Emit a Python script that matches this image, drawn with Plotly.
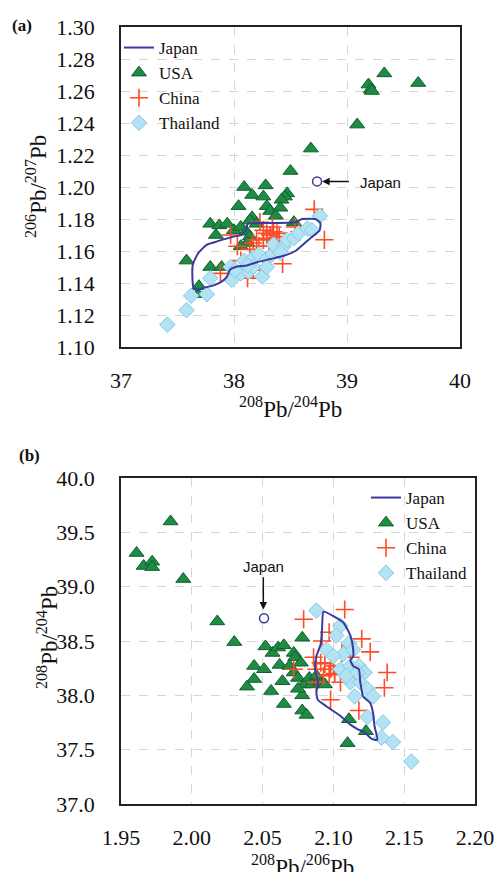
import plotly.graph_objects as go

# ---------------- Panel (a): 208Pb/204Pb vs 206Pb/207Pb ----------------
usa_a_x = [39.33, 39.63, 39.19, 39.21, 39.22, 39.09, 38.68, 38.50, 38.09, 38.28, 38.16, 38.26,
           38.47, 38.45, 38.42, 38.04, 38.29, 38.32, 38.41, 38.37, 38.16, 38.14, 38.20, 37.79,
           37.87, 37.94, 38.00, 38.06, 38.11, 38.14, 38.12, 38.53, 37.84, 37.58, 37.79, 37.89,
           37.69, 37.68, 38.06]
usa_a_y = [1.271, 1.265, 1.264, 1.261, 1.260, 1.239, 1.224, 1.210, 1.200, 1.201, 1.195, 1.194,
           1.196, 1.194, 1.192, 1.188, 1.188, 1.185, 1.187, 1.182, 1.181, 1.179, 1.177, 1.177,
           1.176, 1.177, 1.173, 1.175, 1.172, 1.169, 1.165, 1.178, 1.170, 1.154, 1.150, 1.150,
           1.138, 1.133, 1.163]

china_a_x = [38.71, 38.80, 38.43, 37.88, 38.54, 38.58, 37.97, 38.03, 38.23, 38.26, 38.29, 38.32,
             38.35, 38.38, 38.20, 38.17, 38.29, 38.34, 38.40, 38.26, 38.22, 38.31, 38.14, 38.06,
             38.17, 38.12, 38.45]
china_a_y = [1.186, 1.167, 1.152, 1.146, 1.175, 1.172, 1.170, 1.163, 1.178, 1.173, 1.171, 1.170,
             1.172, 1.171, 1.167, 1.165, 1.168, 1.175, 1.169, 1.167, 1.163, 1.163, 1.161, 1.154,
             1.148, 1.143, 1.166]

thai_a_x = [37.41, 37.58, 37.62, 37.76, 37.79, 37.98, 37.97, 38.06, 38.13, 38.25, 38.09, 38.17,
            38.22, 38.29, 38.34, 38.35, 38.44, 38.47, 38.53, 38.57, 38.65, 38.76, 38.17, 38.29,
            38.12, 38.01, 38.41, 38.69]
thai_a_y = [1.114, 1.123, 1.132, 1.133, 1.143, 1.142, 1.150, 1.146, 1.147, 1.144, 1.154, 1.156,
            1.158, 1.155, 1.158, 1.164, 1.163, 1.167, 1.168, 1.171, 1.174, 1.182, 1.150, 1.150,
            1.151, 1.148, 1.159, 1.173]

japan_a_x = [37.643, 37.631, 37.637, 37.687, 37.761, 37.850, 37.997, 38.062, 38.109, 38.121,
             38.292, 38.543, 38.602, 38.720, 38.764, 38.758, 38.676, 38.602, 38.543, 38.440,
             38.322, 38.204, 38.115, 38.012, 37.962, 37.938, 37.894, 37.820, 37.732, 37.673,
             37.643]
japan_a_y = [1.137, 1.146, 1.152, 1.159, 1.164, 1.166, 1.169, 1.170, 1.173, 1.177,
             1.1775, 1.178, 1.180, 1.180, 1.1775, 1.173, 1.168, 1.1635, 1.160, 1.157,
             1.155, 1.153, 1.151, 1.150, 1.148, 1.144, 1.141, 1.1385, 1.137, 1.1355,
             1.137]

japan_pt_a = (38.735, 1.2035)

# ---------------- Panel (b): 208Pb/206Pb vs 208Pb/204Pb ----------------
usa_b_x = [1.985, 1.961, 1.966, 1.972, 1.972, 1.994, 2.018, 2.030, 2.052, 2.057, 2.061, 2.065,
           2.072, 2.078, 2.073, 2.077, 2.044, 2.051, 2.062, 2.069, 2.072, 2.044, 2.039, 2.064,
           2.075, 2.079, 2.083, 2.085, 2.091, 2.094, 2.056, 2.078, 2.065, 2.078, 2.081, 2.111,
           2.110, 2.123, 2.088, 2.075]
usa_b_y = [39.60, 39.31, 39.19, 39.23, 39.18, 39.07, 38.68, 38.49, 38.45, 38.39, 38.44, 38.46,
           38.39, 38.53, 38.35, 38.30, 38.27, 38.24, 38.28, 38.27, 38.21, 38.15, 38.08, 38.13,
           38.16, 38.10, 38.16, 38.10, 38.12, 38.10, 38.04, 38.00, 37.92, 37.86, 37.82, 37.78,
           37.56, 37.67, 38.18, 38.06]

china_b_x = [2.108, 2.079, 2.097, 2.092, 2.120, 2.126, 2.086, 2.072, 2.088, 2.094, 2.098, 2.100,
             2.097, 2.093, 2.101, 2.091, 2.105, 2.106, 2.112, 2.138, 2.136, 2.098, 2.118, 2.088]
china_b_y = [38.79, 38.70, 38.58, 38.50, 38.52, 38.40, 38.35, 38.24, 38.24, 38.29, 38.24, 38.27,
             38.19, 38.18, 38.20, 38.30, 38.12, 38.39, 38.35, 38.21, 38.07, 37.96, 37.86, 38.12]

thai_b_x = [2.088, 2.105, 2.102, 2.111, 2.107, 2.114, 2.105, 2.112, 2.118, 2.122, 2.112, 2.119,
            2.124, 2.128, 2.124, 2.135, 2.134, 2.142, 2.155, 2.095, 2.109, 2.115, 2.117, 2.100]
thai_b_y = [38.78, 38.64, 38.55, 38.48, 38.38, 38.42, 38.24, 38.27, 38.27, 38.21, 38.12, 38.12,
            38.06, 37.99, 37.80, 37.75, 37.61, 37.57, 37.39, 38.42, 38.18, 37.99, 38.21, 38.36]

japan_b_x = [2.093, 2.100, 2.107, 2.112, 2.114, 2.114, 2.112, 2.114, 2.118, 2.119, 2.121, 2.126,
             2.128, 2.129, 2.131, 2.127, 2.122, 2.117, 2.112, 2.105, 2.095, 2.089, 2.088, 2.089,
             2.087, 2.088, 2.091, 2.092, 2.093]
japan_b_y = [38.77, 38.73, 38.67, 38.55, 38.42, 38.36, 38.32, 38.27, 38.24, 38.12, 37.99, 37.93,
             37.84, 37.72, 37.59, 37.60, 37.66, 37.69, 37.73, 37.81, 37.90, 37.96, 38.03, 38.12,
             38.24, 38.36, 38.47, 38.61, 38.77]

japan_pt_b = (2.051, 38.71)

series_names = ["Japan", "USA", "China", "Thailand"]

# ---------------- styles ----------------
SERIF = "Liberation Serif, Times New Roman, serif"
SANS = "Liberation Sans, Arial, sans-serif"
GREEN = "#1e8c45"
GREEN_EDGE = "#0f5f2c"
RED = "#ff4a26"
BLUE_FILL = "#b3e2f2"
BLUE_EDGE = "#86cbe3"
NAVY = "#3a3a9e"

fig = go.Figure()


def add_panel(xa, ya, legend, usa, china, thai, japan, jpt):
    fig.add_trace(go.Scatter(x=usa[0], y=usa[1], mode="markers", name=series_names[1],
                             xaxis=xa, yaxis=ya, legend=legend, legendrank=2,
                             marker=dict(symbol="triangle-up", size=13, color=GREEN,
                                         line=dict(color=GREEN_EDGE, width=1))))
    fig.add_trace(go.Scatter(x=china[0], y=china[1], mode="markers", name=series_names[2],
                             xaxis=xa, yaxis=ya, legend=legend, legendrank=3,
                             marker=dict(symbol="cross-thin-open", size=13, color=RED,
                                         line=dict(color=RED, width=1.6))))
    fig.add_trace(go.Scatter(x=thai[0], y=thai[1], mode="markers", name=series_names[3],
                             xaxis=xa, yaxis=ya, legend=legend, legendrank=4,
                             marker=dict(symbol="diamond", size=12, color=BLUE_FILL,
                                         line=dict(color=BLUE_EDGE, width=1))))
    fig.add_trace(go.Scatter(x=japan[0], y=japan[1], mode="lines", name=series_names[0],
                             xaxis=xa, yaxis=ya, legend=legend, legendrank=1,
                             line=dict(color=NAVY, width=2, shape="spline", smoothing=0.5)))
    fig.add_trace(go.Scatter(x=[jpt[0]], y=[jpt[1]], mode="markers", showlegend=False,
                             xaxis=xa, yaxis=ya,
                             marker=dict(symbol="circle-open", size=9, color=NAVY,
                                         line=dict(color=NAVY, width=1.5))))


add_panel("x", "y", "legend", (usa_a_x, usa_a_y), (china_a_x, china_a_y),
          (thai_a_x, thai_a_y), (japan_a_x, japan_a_y), japan_pt_a)
add_panel("x2", "y2", "legend2", (usa_b_x, usa_b_y), (china_b_x, china_b_y),
          (thai_b_x, thai_b_y), (japan_b_x, japan_b_y), japan_pt_b)

W, H = 494, 872

axis_common = dict(showline=True, linecolor="#222", linewidth=1.5, mirror=True,
                   showgrid=True, gridcolor="#d6d6d6", griddash="dash", gridwidth=1,
                   zeroline=False, ticks="", automargin=False, ticklabeloverflow="allow",
                   tickfont=dict(family=SERIF, size=22, color="#111"))

fig.update_layout(
    width=W, height=H,
    margin=dict(l=0, r=0, t=0, b=0, autoexpand=False),
    paper_bgcolor="white", plot_bgcolor="white",
    showlegend=True,
    xaxis=dict(domain=[121 / W, 460 / W], anchor="y", range=[37, 40],
               tickvals=[37, 38, 39, 40], ticktext=["37", "38", "39", "40"],
               ticklabelstandoff=13, **axis_common),
    yaxis=dict(domain=[1 - 347 / H, 1 - 27 / H], anchor="x", range=[1.10, 1.30],
               tickvals=[1.10 + 0.02 * i for i in range(11)], tickformat=".2f",
               ticklabelstandoff=20, **axis_common),
    xaxis2=dict(domain=[121 / W, 475 / W], anchor="y2", range=[1.95, 2.20],
                tickvals=[1.95, 2.00, 2.05, 2.10, 2.15, 2.20], tickformat=".2f",
                ticklabelstandoff=13, **axis_common),
    yaxis2=dict(domain=[1 - 804 / H, 1 - 478 / H], anchor="x2", range=[37.0, 40.0],
                tickvals=[37.0, 37.5, 38.0, 38.5, 39.0, 39.5, 40.0], tickformat=".1f",
                ticklabelstandoff=20, **axis_common),
    legend=dict(x=119 / W, y=1 - 30 / H, xanchor="left", yanchor="top",
                bgcolor="rgba(255,255,255,0)", font=dict(family=SERIF, size=17, color="#111"),
                itemwidth=30, tracegroupgap=0),
    legend2=dict(x=366 / W, y=1 - 480 / H, xanchor="left", yanchor="top",
                 bgcolor="rgba(255,255,255,0)", font=dict(family=SERIF, size=17, color="#111"),
                 itemwidth=30, tracegroupgap=0),
)

annotations = [
    # panel labels
    dict(text="<b>(a)</b>", x=10 / W, y=1 - 25 / H, xref="paper", yref="paper",
         xanchor="left", yanchor="middle", showarrow=False,
         font=dict(family=SERIF, size=17, color="#111")),
    dict(text="<b>(b)</b>", x=17 / W, y=1 - 455 / H, xref="paper", yref="paper",
         xanchor="left", yanchor="middle", showarrow=False,
         font=dict(family=SERIF, size=17, color="#111")),
    # axis titles
    dict(text="<sup>208</sup>Pb/<sup>204</sup>Pb", x=(121 + 460) / 2 / W, y=1 - 407 / H,
         xref="paper", yref="paper", xanchor="center", yanchor="middle", showarrow=False,
         font=dict(family=SERIF, size=23, color="#111")),
    dict(text="<sup>206</sup>Pb/<sup>207</sup>Pb", x=37 / W, y=1 - 187 / H, textangle=-90,
         xref="paper", yref="paper", xanchor="center", yanchor="middle", showarrow=False,
         font=dict(family=SERIF, size=23, color="#111")),
    dict(text="<sup>208</sup>Pb/<sup>206</sup>Pb", x=302 / W, y=1 - 865 / H,
         xref="paper", yref="paper", xanchor="center", yanchor="middle", showarrow=False,
         font=dict(family=SERIF, size=23, color="#111")),
    dict(text="<sup>208</sup>Pb/<sup>204</sup>Pb", x=47 / W, y=1 - 638 / H, textangle=-90,
         xref="paper", yref="paper", xanchor="center", yanchor="middle", showarrow=False,
         font=dict(family=SERIF, size=23, color="#111")),
    # Japan callouts
    dict(text="", x=38.78, y=1.2035, xref="x", yref="y", ax=39.03, ay=1.2035,
         axref="x", ayref="y", showarrow=True, arrowhead=2, arrowsize=1, arrowwidth=1.5,
         arrowcolor="#111"),
    dict(text="Japan", x=39.10, y=1.2025, xref="x", yref="y", xanchor="left",
         yanchor="middle", showarrow=False, font=dict(family=SANS, size=15, color="#111")),
    dict(text="", x=2.0505, y=38.79, xref="x2", yref="y2", ax=2.0505, ay=39.10,
         axref="x2", ayref="y2", showarrow=True, arrowhead=2, arrowsize=1, arrowwidth=1.5,
         arrowcolor="#111"),
    dict(text="Japan", x=2.0505, y=39.19, xref="x2", yref="y2", xanchor="center",
         yanchor="middle", showarrow=False, font=dict(family=SANS, size=15, color="#111")),
]
fig.update_layout(annotations=annotations)

fig.write_html("out.html")
